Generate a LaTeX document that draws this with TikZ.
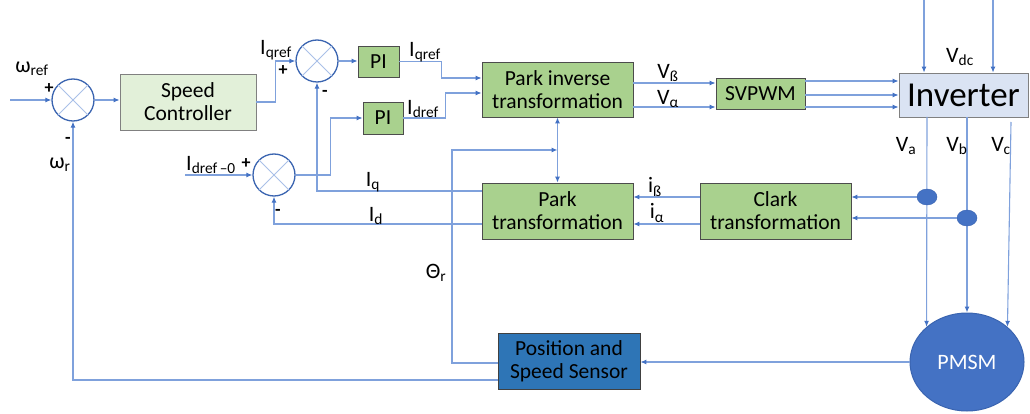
\documentclass[tikz,border=0pt]{standalone}
\usepackage{fontspec}
\setmainfont{Carlito}
\usetikzlibrary{arrows.meta,calc,shapes.geometric}
\definecolor{ln}{HTML}{7FA1DC}
\definecolor{arr}{HTML}{4472C4}
\definecolor{gfill}{HTML}{A9D18E}
\definecolor{lgfill}{HTML}{E2F0D9}
\definecolor{invfill}{HTML}{DAE3F3}
\definecolor{sensfill}{HTML}{2E75B6}
\definecolor{motfill}{HTML}{4472C4}
\definecolor{sumc}{HTML}{3A64B0}
\definecolor{xc}{HTML}{A9C0E8}
\begin{document}
\begin{tikzpicture}[x=1pt,y=-1pt,
  wire/.style={draw=ln, line width=1.1pt},
  arw/.style={wire, -{Latex[length=6pt,width=5pt,color=arr]}},
  darw/.style={wire, {Latex[length=6pt,width=5pt,color=arr]}-{Latex[length=6pt,width=5pt,color=arr]}},
  blk/.style={draw=black!70, line width=0.8pt, fill=gfill, align=center, inner sep=0pt,
     font=\fontsize{21.5}{23}\selectfont},
  sumnode/.style={circle, draw=sumc, line width=1.3pt, fill=white, minimum size=42pt, inner sep=0pt},
  lab/.style={inner sep=0pt, font=\fontsize{22}{24}\selectfont},
  sgn/.style={inner sep=0pt, font=\fontsize{18}{20}\selectfont\bfseries},
  dotn/.style={ellipse, fill=arr, draw=sumc, minimum width=20pt, minimum height=16pt, inner sep=0pt}]
\useasboundingbox (0,0) rectangle (1030,414);
% blocks
\node[blk, fill=lgfill, draw=black!50, minimum width=136pt, minimum height=56pt] (sc) at (188,102) {Speed\\Controller};
\node[blk, minimum width=41pt, minimum height=31pt] (pi1) at (378.5,61.5) {PI};
\node[blk, minimum width=40pt, minimum height=32pt] (pi2) at (383,118) {PI};
\node[blk, minimum width=151pt, minimum height=55pt] (pinv) at (557.5,89.5) {Park inverse\\transformation};
\node[blk, minimum width=151pt, minimum height=56pt] (park) at (557.5,211) {Park\\transformation};
\node[blk, minimum width=151pt, minimum height=56pt] (clark) at (775.5,211) {Clark\\transformation};
\node[blk, minimum width=89pt, minimum height=31pt] (svp) at (760.5,93.5) {SVPWM};
\node[blk, fill=invfill, draw=black!50, minimum width=129pt, minimum height=44pt, font=\fontsize{35}{38}\selectfont] (inv) at (963.5,95) {Inverter};
\node[blk, fill=sensfill, draw=black!75, minimum width=142pt, minimum height=56pt] (sens) at (569,361) {Position and\\Speed Sensor};
\node[ellipse, fill=motfill, draw=sumc, line width=1pt, minimum width=114pt, minimum height=98pt, inner sep=0pt, text=white, font=\fontsize{22}{24}\selectfont] (mot) at (967,362) {PMSM};
% summing junctions
\foreach \n/\p in {s1/{(73,100)}, s2/{(317,61)}, s3/{(274,175)}}{
  \node[sumnode] (\n) at \p {};
  \draw[xc, line width=1pt] (\n.north west) -- (\n.south east) (\n.north east) -- (\n.south west);
}
% free ends
\coordinate (wref) at (10,100);
\coordinate (idin) at (185,175);
\coordinate (dc1) at (924,0);
\coordinate (dc2) at (993,0);
\coordinate (thj) at (557.5,150);
% speed loop
\draw[arw] (wref) -- (s1.west);
\draw[arw] (s1.east) -- (s1.east -| sc.west);
\draw[arw] (sc.east) -- ++(19,0) |- (s2.west);
\draw[arw] (s2.east) -- (s2.east -| pi1.west);
\draw[arw] (pi1.east) -- ++(42,0) |- ($(pinv.west)+(0,-11.5)$);
\draw[arw] (pi2.east) -- ++(42,0) |- ($(pinv.west)+(0,3.5)$);
\draw[arw] (idin) -- (s3.west);
\draw[arw] (s3.east) -- ++(35,0) |- (pi2.west);
\draw[arw] ($(park.west)+(0,-20)$) -| (s2.south);
\draw[arw] ($(park.west)+(0,13)$) -| (s3.south);
% to SVPWM and inverter
\coordinate (vb) at ($(pinv.east)+(0,-6.5)$);
\coordinate (va) at ($(pinv.east)+(0,17.5)$);
\draw[arw] (vb) -- (vb -| svp.west);
\draw[arw] (va) -- (va -| svp.west);
\foreach \k/\d in {1/-12.5, 2/1.5, 3/13.5}{
  \coordinate (g\k) at ($(svp.east)+(0,\d)$);
  \draw[arw] (g\k) -- (g\k -| inv.west);
}
\draw[arw] (dc1) -- (dc1 |- inv.north);
\draw[arw] (dc2) -- (dc2 |- inv.north);
% inverter to motor
\coordinate (pa) at (927,117);
\coordinate (pb) at (967,117);
\coordinate (pc) at (1011,122);
\draw[arw] (pa) -- (mot.139);
\draw[arw] (pb) -- (mot.north);
\draw[arw] (pc) -- (mot.41);
% measurement dots
\node[dotn] (d1) at (927,197) {};
\node[dotn] (d2) at (967,218) {};
\draw[arw] (d1.west) -- (d1.west -| clark.east);
\draw[arw] (d2.west) -- (d2.west -| clark.east);
\coordinate (ib) at ($(clark.west)+(0,-14)$);
\coordinate (ia) at ($(clark.west)+(0,13)$);
\draw[arw] (ib) -- (ib -| park.east);
\draw[arw] (ia) -- (ia -| park.east);
% park <-> park inverse and theta
\draw[darw] (pinv.south) -- (park.north);
\draw[arw] ($(sens.west)+(0,2)$) -| (452,150) -- (thj);
\draw[arw] ($(sens.west)+(0,19)$) -| (s1.south);
\draw[arw] (mot.west) -- (mot.west -| sens.east);
% labels
\node[lab] (l1) at (32,69) {ω\textsubscript{ref}};
\node[sgn] (l2) at (49,89) {+};
\node[sgn] (l3) at (68,140) {-};
\node[lab] (l4) at (60,165) {ω\textsubscript{r}};
\node[lab] (l5) at (276,50) {I\textsubscript{qref}};
\node[sgn] (l6) at (283,71) {+};
\node[sgn] (l7) at (325,93) {-};
\node[lab] (l8) at (425,52) {I\textsubscript{qref}};
\node[lab] (l9) at (423,109) {I\textsubscript{dref}};
\node[lab] (l10) at (211,165) {I\textsubscript{dref\,–0}};
\node[sgn] (l11) at (246,164) {+};
\node[sgn] (l12) at (278,212) {-};
\node[lab] (l13) at (373,182) {I\textsubscript{q}};
\node[lab] (l14) at (376,216) {I\textsubscript{d}};
\node[lab] (l15) at (668,73) {V\textsubscript{ß}};
\node[lab] (l16) at (668,99) {V\textsubscript{α}};
\node[lab] (l17) at (960,57) {V\textsubscript{dc}};
\node[lab] (l18) at (906,146) {V\textsubscript{a}};
\node[lab] (l19) at (957,146) {V\textsubscript{b}};
\node[lab] (l20) at (1001,146) {V\textsubscript{c}};
\node[lab] (l21) at (655,187) {i\textsubscript{ß}};
\node[lab] (l22) at (657,213) {i\textsubscript{α}};
\node[lab] (l23) at (436,273) {Θ\textsubscript{r}};
\end{tikzpicture}
\end{document}
